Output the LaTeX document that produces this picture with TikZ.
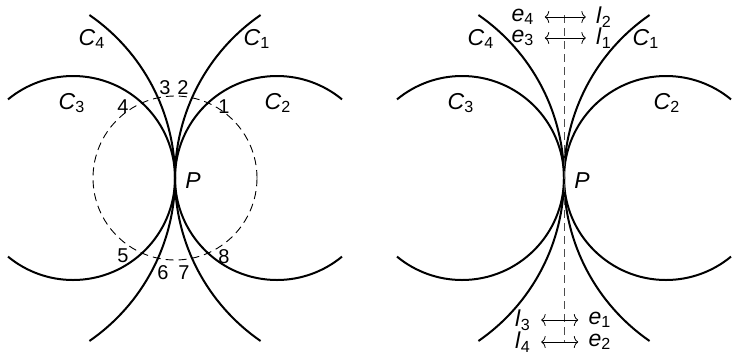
\documentclass[tikz,border=0pt]{standalone}
\usepackage{fontspec}
\setmainfont{Liberation Sans}
\usetikzlibrary{arrows.meta}

\begin{document}
\begin{tikzpicture}[
  x=0.5pt, y=0.5pt,
  font=\fontsize{11.5}{13}\selectfont,
  curve/.style={line width=1pt},
  aux/.style={line width=0.45pt, dash pattern=on 4pt off 2.5pt},
  axis/.style={line width=0.5pt, black!70, dash pattern=on 4pt off 2.5pt},
  lbl/.style={inner sep=0pt},
  num/.style={inner sep=0pt, font=\fontsize{10}{12}\selectfont},
  tag/.style={inner xsep=5pt, inner ysep=0pt},
  arr/.style={{To[length=2.2pt,width=6pt]}-{To[length=2.2pt,width=6pt]}, line width=0.4pt},
]
\useasboundingbox (0,0) rectangle (732,355);

% both panels share the four curves
\foreach \px/\side in {0/L,389/R} {
\begin{scope}[shift={(\px,0)}]
\coordinate (P\side) at (175,177);
\draw[curve] (P\side) arc[start angle=180, end angle=50.4, radius=102]
  (P\side) arc[start angle=180, end angle=309.6, radius=102];
\draw[curve] (P\side) arc[start angle=0, end angle=129.6, radius=102]
  (P\side) arc[start angle=0, end angle=-129.6, radius=102];
\draw[curve] (P\side) arc[start angle=180, end angle=124.6, radius=198]
  (P\side) arc[start angle=180, end angle=235.4, radius=198];
\draw[curve] (P\side) arc[start angle=0, end angle=55.4, radius=198]
  (P\side) arc[start angle=0, end angle=-55.4, radius=198];
\node[lbl] (c1\side) at (257,316) {\textit{C}\textsubscript{1}};
\node[lbl] (c2\side) at (278,252) {\textit{C}\textsubscript{2}};
\node[lbl] (c3\side) at (72,252)  {\textit{C}\textsubscript{3}};
\node[lbl] (c4\side) at (92,316)  {\textit{C}\textsubscript{4}};
\node[lbl] (p\side)  at (193,174) {\textit{P}};
\end{scope}
}

% left: dashed circle and its crossings
\draw[aux] (PL) circle[radius=82];
\node[num] (n1) at (224,248) {1};
\node[num] (n2) at (183,267) {2};
\node[num] (n3) at (165,267) {3};
\node[num] (n4) at (123,248) {4};
\node[num] (n5) at (123,99)  {5};
\node[num] (n6) at (163,82)  {6};
\node[num] (n7) at (184,82)  {7};
\node[num] (n8) at (224,98)  {8};

% right: axis and end correspondences
\coordinate (axtop) at (564,340);
\coordinate (axbot) at (564,12);
\draw[axis] (axtop) -- (axbot);

\node[tag] (e4) at (523,338) {\textit{e}\textsubscript{4}};
\node[tag] (l2) at (604,338) {\textit{l}\textsubscript{2}};
\node[tag] (e3) at (523,317) {\textit{e}\textsubscript{3}};
\node[tag] (l1) at (604,317) {\textit{l}\textsubscript{1}};
\node[tag] (l3) at (523,35)  {\textit{l}\textsubscript{3}};
\node[tag] (e1) at (600,35)  {\textit{e}\textsubscript{1}};
\node[tag] (l4) at (523,13)  {\textit{l}\textsubscript{4}};
\node[tag] (e2) at (600,13)  {\textit{e}\textsubscript{2}};

\draw[arr] (e4.east) -- (e4.east -| l2.west);
\draw[arr] (e3.east) -- (e3.east -| l1.west);
\draw[arr] (l3.east) -- (l3.east -| e1.west);
\draw[arr] (l4.east) -- (l4.east -| e2.west);
\end{tikzpicture}
\end{document}
